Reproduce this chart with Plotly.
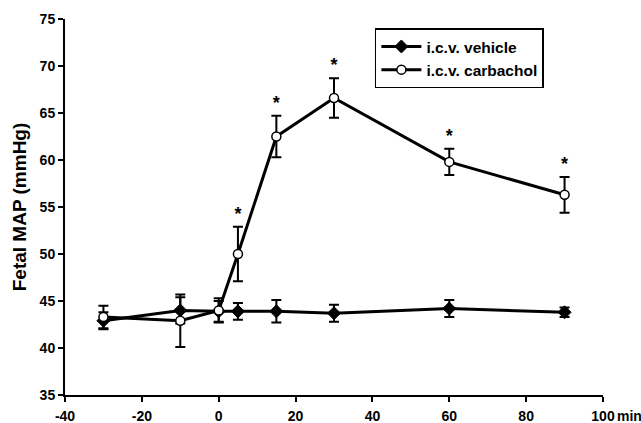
import plotly.graph_objects as go

time = [-30, -10, 0, 5, 15, 30, 60, 90]
vehicle = [42.9, 44.0, 43.9, 43.9, 43.9, 43.7, 44.2, 43.8]
vehicle_err = [0.9, 1.4, 1.1, 0.9, 1.2, 0.9, 0.9, 0.5]
carbachol = [43.3, 42.9, 44.0, 50.0, 62.5, 66.6, 59.8, 56.3]
carbachol_err = [1.2, 2.8, 1.3, 2.9, 2.2, 2.1, 1.4, 1.9]
sig_times = [5, 15, 30, 60, 90]

font = "Liberation Sans, Arial, sans-serif"

fig = go.Figure()
fig.add_trace(go.Scatter(
    x=time, y=vehicle, name="i.c.v. vehicle", mode="lines+markers",
    line=dict(color="black", width=3),
    marker=dict(symbol="diamond", size=10, color="black", line=dict(color="black", width=1)),
    error_y=dict(type="data", array=vehicle_err, color="black", thickness=2, width=5),
))
fig.add_trace(go.Scatter(
    x=time, y=carbachol, name="i.c.v. carbachol", mode="lines+markers",
    line=dict(color="black", width=3),
    marker=dict(symbol="circle", size=9, color="white", line=dict(color="black", width=1.5)),
    error_y=dict(type="data", array=carbachol_err, color="black", thickness=2, width=5),
))
sig_y = [carbachol[time.index(t)] + carbachol_err[time.index(t)] + 1.2 for t in sig_times]
fig.add_trace(go.Scatter(
    x=sig_times, y=sig_y, mode="text", text=["*"] * len(sig_times),
    textfont=dict(family=font, size=18, color="black", weight="bold"),
    showlegend=False, hoverinfo="skip",
))

fig.update_layout(
    width=641, height=423,
    margin=dict(l=65, r=38, t=19, b=28),
    paper_bgcolor="white", plot_bgcolor="white",
    font=dict(family=font, size=14, color="black"),
    showlegend=True,
    legend=dict(x=0.576, y=0.975, xanchor="left", yanchor="top",
                bordercolor="black", borderwidth=1.5, bgcolor="white",
                font=dict(family=font, size=15.5, color="black", weight="bold"),
                tracegroupgap=0, itemwidth=40),
    xaxis=dict(range=[-40, 100], tickvals=[-40, -20, 0, 20, 40, 60, 80, 100],
               ticktext=["-40", "-20", "0", "20", "40", "60", "80", "100"],
               showline=True, linecolor="black", linewidth=2, ticks="outside",
               tickcolor="black", ticklen=5, tickwidth=2, showgrid=False, zeroline=False,
               automargin=False, ticklabelstandoff=2,
               tickfont=dict(family=font, size=14, weight="bold")),
    yaxis=dict(range=[35, 75], tickvals=[35, 40, 45, 50, 55, 60, 65, 70, 75],
               showline=True, linecolor="black", linewidth=2, ticks="outside",
               tickcolor="black", ticklen=5, tickwidth=2, showgrid=False, zeroline=False,
               automargin=False,
               tickfont=dict(family=font, size=14, weight="bold"),
               title=dict(text="Fetal MAP (mmHg)", standoff=8,
                          font=dict(family=font, size=19, weight="bold"))),
)
fig.add_annotation(x=100, y=0, xref="x", yref="paper", text="min", showarrow=False,
                   xanchor="left", yanchor="top", xshift=12, yshift=-11,
                   font=dict(family=font, size=14, weight="bold"))
fig.write_html("out.html", config={"displayModeBar": False},
               post_script="document.body.style.margin='0';")
